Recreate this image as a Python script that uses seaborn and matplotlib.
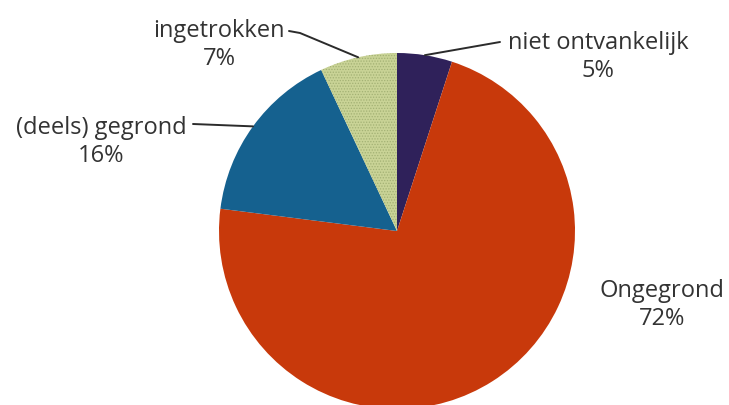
import numpy as np
import matplotlib
matplotlib.use("Agg")
import matplotlib.pyplot as plt
import seaborn as sns

# ===========================
# Data
# ===========================
labels = ["niet ontvankelijk", "Ongegrond", "(deels) gegrond", "ingetrokken"]
shares = [5, 72, 16, 7]
colors = ["#2f215a", "#c8390b", "#15618f", "#c9d396"]

sns.set_theme(style="white")
plt.rcParams["font.family"] = ["Open Sans", "DejaVu Sans"]
plt.rcParams["hatch.linewidth"] = 0.6

# ===========================
# Figure (axes in pixel units)
# ===========================
W, H = 729, 405
fig = plt.figure(figsize=(W / 100, H / 100), dpi=100)
ax = fig.add_axes([0, 0, 1, 1])

cx, cy, r = 397, H - 231, 178
wedges, _ = ax.pie(shares, colors=colors, startangle=90, counterclock=False,
                   center=(cx, cy), radius=r, frame=True,
                   wedgeprops={"linewidth": 0, "edgecolor": "none"})
ax.set_xlim(0, W)
ax.set_ylim(0, H)
ax.set_axis_off()

# speckled texture on "ingetrokken"
wedges[3].set_hatch("......")
wedges[3].set_edgecolor("#a3b174")
wedges[3].set_linewidth(0)

# ===========================
# Labels with leader lines
# ===========================
text_pos = {
    "niet ontvankelijk": (598, H - 57),
    "Ongegrond": (662, H - 305),
    "(deels) gegrond": (101, H - 142),
    "ingetrokken": (219, H - 45),
}
# line path from text side towards the pie edge (layout only)
line_start = {
    "niet ontvankelijk": [(500, H - 42)],
    "(deels) gegrond": [(193, H - 124)],
    "ingetrokken": [(289, H - 31), (300, H - 33)],
}

angle = 90.0
for lab, val in zip(labels, shares):
    span = 360.0 * val / sum(shares)
    mid = np.deg2rad(angle - span / 2)
    angle -= span
    tx, ty = text_pos[lab]
    ax.text(tx, ty, f"{lab}\n{val}%", ha="center", va="center",
            fontsize=17, color="#333333", linespacing=1.2)
    if lab in line_start:
        ex, ey = cx + r * np.cos(mid), cy + r * np.sin(mid)
        pts = line_start[lab] + [(ex, ey)]
        xs, ys = zip(*pts)
        ax.plot(xs, ys, color="#2b2b2b", lw=1.4, solid_capstyle="round")

fig.savefig("out.png", dpi=100, facecolor="white")
